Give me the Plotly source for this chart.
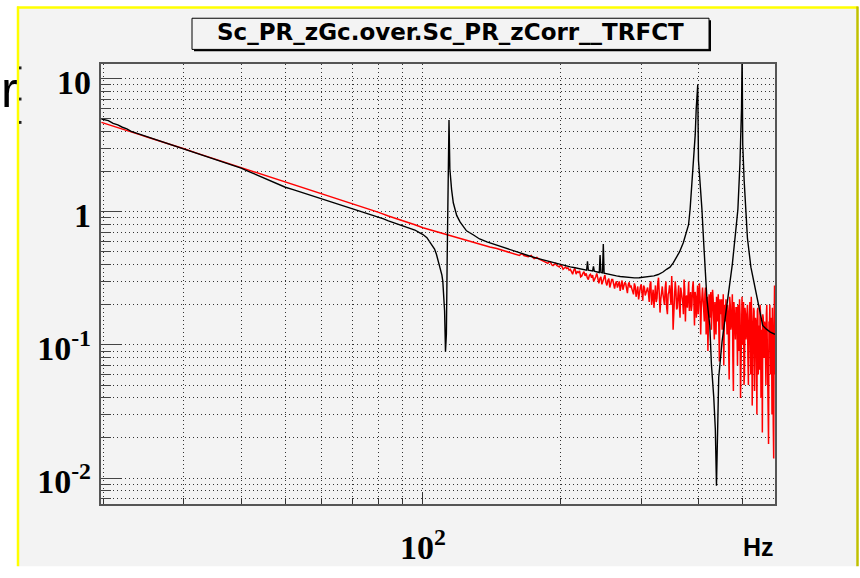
import numpy as np
import plotly.graph_objects as go

# ---------------- data ----------------
black_f = [19.8, 20.5, 21, 21.5, 22, 22.5, 23, 24, 25, 26, 27, 28, 29, 30, 31, 32, 33, 34, 35, 36,
           37, 38, 39, 40, 42, 44, 46, 48, 50, 52, 54, 56, 58, 60, 62,
           64, 66, 68, 70, 72, 74, 76, 78, 80, 82, 84, 86, 88, 90, 92, 94, 96, 98, 100, 102,
           104, 105, 106, 107, 108, 109, 110, 110.5, 111, 111.5, 112, 112.5, 113, 113.5, 114, 114.5, 115, 115.5, 116.5, 117.5,
           118.5, 120.5, 122.5, 124.5, 129, 133, 138, 145, 150, 157.5, 165, 171, 178, 186, 192, 199, 205, 210, 215, 220,
           225, 228, 229, 230, 235, 236, 237, 240, 243, 244, 245, 247, 248, 249, 252, 256, 260, 265, 270, 275,
           283, 290, 297, 303, 308, 313, 320, 327, 335, 341, 347, 353, 358, 364, 371, 377, 381, 384, 387, 390.5,
           394, 396, 398, 399, 400.5, 404, 407.5, 411, 414.5, 418, 424, 427.5, 432.5, 436, 438.5, 442, 443.5, 451, 459, 467,
           475, 483, 488.5, 493.5, 495.5, 497.5, 499, 500.5, 504, 508, 512.5, 521.5, 530, 539.5, 553.5, 563, 575, 589]
black_v = [4.98, 4.85, 4.62, 4.5, 4.32, 4.2, 4.02, 3.83, 3.64, 3.5, 3.35, 3.2, 3.1, 2.96, 2.86, 2.75, 2.66, 2.57, 2.5, 2.4,
           2.35, 2.27, 2.21, 2.13, 1.98, 1.85, 1.71, 1.62, 1.53, 1.47, 1.41, 1.36, 1.31, 1.265, 1.22,
           1.17, 1.135, 1.095, 1.06, 1.025, 0.995, 0.965, 0.94, 0.91, 0.885, 0.855, 0.83, 0.81, 0.79, 0.77, 0.75, 0.73, 0.7, 0.675, 0.64,
           0.585, 0.56, 0.525, 0.48, 0.43, 0.38, 0.335, 0.3, 0.25, 0.18, 0.089, 0.12, 0.5, 1.6, 4.9, 2.1, 1.65, 1.47, 1.17, 1.02,
           0.94, 0.84, 0.77, 0.72, 0.67, 0.625, 0.594, 0.561, 0.54, 0.507, 0.485, 0.466, 0.447, 0.429, 0.415, 0.401, 0.393, 0.386, 0.38, 0.373,
           0.368, 0.365, 0.425, 0.364, 0.36, 0.39, 0.358, 0.353, 0.35, 0.474, 0.35, 0.348, 0.574, 0.346, 0.342, 0.338, 0.333, 0.33, 0.327, 0.324,
           0.321, 0.319, 0.32, 0.322, 0.324, 0.326, 0.33, 0.338, 0.353, 0.37, 0.384, 0.415, 0.454, 0.5, 0.585, 0.71, 0.8, 1.05, 1.5, 2.44,
           3.8, 5.97, 8.8, 9.0, 2.44, 1.65, 1.05, 0.6, 0.343, 0.219, 0.14, 0.0714, 0.0407, 0.0233, 0.00875, 0.0275, 0.057, 0.106, 0.166, 0.245,
           0.405, 0.71, 1.05, 2.3, 3.22, 6.0, 16.0, 3.22, 1.74, 0.99, 0.636, 0.384, 0.29, 0.207, 0.14, 0.132, 0.125, 0.12]

red_smooth_f = [19.8, 21, 22, 23, 24, 25, 26, 27, 28, 29, 30, 32, 34, 36, 38, 40, 42, 44, 46, 48,
                50, 53, 56, 59, 62, 65, 68, 71, 74, 77, 80, 84, 88, 92, 96, 100, 104, 108, 112, 116,
                120, 125, 130, 135, 140, 145, 150, 155]
red_smooth_v = [4.7, 4.42, 4.2, 3.97, 3.8, 3.63, 3.48, 3.36, 3.2, 3.1, 2.98, 2.76, 2.58, 2.41, 2.28, 2.15, 2.03, 1.93, 1.83, 1.75,
                1.66, 1.56, 1.47, 1.39, 1.32, 1.25, 1.19, 1.13, 1.08, 1.04, 0.99, 0.93, 0.885, 0.845, 0.8, 0.76, 0.73, 0.705, 0.68, 0.655,
                0.632, 0.61, 0.585, 0.565, 0.545, 0.53, 0.51, 0.495]

# noisy part: frequency bins from 160 Hz, 1.25 Hz apart.
# "even" bins (160, 162.5, ...) and "odd" bins (161.25, 163.75, ...)
red_noise_start, red_noise_step = 160.0, 1.25
red_noise_even = [
    0.48, 0.47, 0.485, 0.465, 0.46, 0.47, 0.445, 0.455, 0.44, 0.43,
    0.425, 0.41, 0.42, 0.395, 0.41, 0.39, 0.40, 0.37, 0.385, 0.38,
    0.37, 0.34, 0.375, 0.355, 0.36, 0.33, 0.355, 0.345, 0.31, 0.34,
    0.335, 0.31, 0.345, 0.29, 0.325, 0.30, 0.335, 0.28, 0.315, 0.295,
    0.31, 0.265, 0.30, 0.285, 0.255, 0.305, 0.28, 0.29, 0.245, 0.295,
    0.28, 0.25, 0.29, 0.23, 0.275, 0.26, 0.285, 0.215, 0.27, 0.25,
    0.27, 0.21, 0.30, 0.235, 0.19, 0.28, 0.225, 0.32, 0.175, 0.26,
    0.24, 0.2, 0.3, 0.17, 0.25, 0.215, 0.33, 0.13, 0.23, 0.26,
    0.19, 0.28, 0.16, 0.25, 0.21, 0.31, 0.15, 0.235, 0.27, 0.18,
    0.25, 0.2, 0.3, 0.14, 0.23, 0.26, 0.17, 0.29, 0.12, 0.24,
    0.22, 0.15, 0.27, 0.18, 0.09, 0.24, 0.2, 0.13, 0.26, 0.17,
    0.21, 0.12, 0.19, 0.24, 0.075, 0.17, 0.22, 0.14, 0.07, 0.2,
    0.22, 0.12, 0.18, 0.055, 0.2, 0.14, 0.24, 0.045, 0.17, 0.11,
    0.19, 0.07, 0.16, 0.22, 0.04, 0.15, 0.1, 0.21, 0.06, 0.17,
    0.12, 0.2, 0.05, 0.16, 0.09, 0.23, 0.035, 0.14, 0.18, 0.07,
    0.15, 0.03, 0.19, 0.1, 0.065, 0.17, 0.12, 0.022, 0.16, 0.08,
    0.14, 0.05, 0.2, 0.07, 0.018, 0.13, 0.09, 0.16, 0.03, 0.11, 0.014, 0.28, 0.06,
]
red_noise_odd = [
    0.475, 0.48, 0.47, 0.46, 0.465, 0.455, 0.45, 0.445, 0.435, 0.43,
    0.415, 0.42, 0.40, 0.405, 0.395, 0.385, 0.39, 0.38, 0.375, 0.365,
    0.355, 0.365, 0.34, 0.35, 0.325, 0.345, 0.33, 0.32, 0.335, 0.32,
    0.3, 0.325, 0.31, 0.315, 0.285, 0.32, 0.295, 0.305, 0.27, 0.31,
    0.285, 0.29, 0.27, 0.3, 0.275, 0.26, 0.295, 0.265, 0.285, 0.27,
    0.265, 0.24, 0.275, 0.255, 0.22, 0.27, 0.245, 0.28, 0.235, 0.26,
    0.245, 0.285, 0.2, 0.26, 0.25, 0.21, 0.29, 0.24, 0.22, 0.275,
    0.22, 0.27, 0.19, 0.24, 0.28, 0.2, 0.25, 0.21, 0.3, 0.185,
    0.24, 0.2, 0.27, 0.22, 0.17, 0.26, 0.23, 0.19, 0.3, 0.21,
    0.18, 0.27, 0.22, 0.25, 0.16, 0.28, 0.21, 0.23, 0.19, 0.27,
    0.19, 0.24, 0.12, 0.23, 0.2, 0.16, 0.25, 0.18, 0.22, 0.11,
    0.16, 0.23, 0.15, 0.1, 0.22, 0.19, 0.13, 0.24, 0.17, 0.15,
    0.17, 0.2, 0.09, 0.23, 0.13, 0.18, 0.08, 0.21, 0.15, 0.19,
    0.13, 0.2, 0.09, 0.17, 0.12, 0.23, 0.14, 0.05, 0.19, 0.11,
    0.17, 0.08, 0.14, 0.21, 0.06, 0.15, 0.12, 0.19, 0.045, 0.16,
    0.1, 0.18, 0.06, 0.14, 0.2, 0.04, 0.13, 0.17, 0.09, 0.15,
    0.09, 0.17, 0.11, 0.04, 0.15, 0.2, 0.06, 0.12, 0.19, 0.025, 0.13, 0.08,
]
red_noise_v = []
for i, v in enumerate(red_noise_even):
    red_noise_v.append(v)
    if i < len(red_noise_odd):
        red_noise_v.append(red_noise_odd[i])
red_noise_f = list(red_noise_start + red_noise_step * np.arange(len(red_noise_v)))

x_grid_vals = [20, 30, 40, 50, 60, 70, 80, 90, 100, 200, 300, 400, 500]
x_major_vals = [100]
x_major_text = ["<b>10<sup>2</sup></b>"]
y_grid_vals = [m * 10.0 ** e for e in (-3, -2, -1, 0, 1) for m in range(1, 10)]
y_major_vals = [0.01, 0.1, 1, 10]
y_major_text = ["<b>10<sup>-2</sup></b>", "<b>10<sup>-1</sup></b>", "<b>1</b>", "<b>10</b>"]

title_text = "Sc_PR_zGc.over.Sc_PR_zCorr__TRFCT"

# ---------------- layout geometry (pixels) ----------------
W, H = 860, 578
L, R, T, B = 101, 775, 64, 516
BG = "#f3f3f3"


def px_x(x):
    return (x - L) / (R - L)


def px_y(y):
    return (B - y) / (B - T)


fig = go.Figure()
fig.add_trace(go.Scatter(x=red_smooth_f + red_noise_f, y=red_smooth_v + red_noise_v, mode="lines",
                         xaxis="x", yaxis="y",
                         line=dict(color="#ff0000", width=1.5), showlegend=False, hoverinfo="skip"))
fig.add_trace(go.Scatter(x=black_f, y=black_v, mode="lines", xaxis="x2", yaxis="y2",
                         line=dict(color="#000000", width=1.4), showlegend=False, hoverinfo="skip"))

xr = [1.2957, 2.770]
yr = [-2.195, 1.1106]
tick_font = dict(family="Liberation Serif", size=34, color="black")
dot = "1px,3px"

fig.update_layout(
    width=W, height=H,
    margin=dict(l=L, r=W - R, t=T, b=H - B, pad=0),
    paper_bgcolor="white", plot_bgcolor=BG,
    xaxis=dict(type="log", range=xr, tickvals=x_grid_vals, showticklabels=False,
               ticks="inside", ticklen=6, tickwidth=1, tickcolor="#333",
               showgrid=True, gridcolor="#333", gridwidth=1, griddash=dot,
               showline=True, mirror=True, linecolor="#555", linewidth=2, zeroline=False),
    xaxis2=dict(type="log", range=xr, overlaying="x", anchor="y", side="bottom",
                tickvals=x_major_vals, ticktext=x_major_text, ticks="inside", ticklen=12,
                tickwidth=1, tickcolor="#333", showgrid=False, showline=False, zeroline=False,
                tickfont=tick_font, ticklabelstandoff=20),
    yaxis=dict(type="log", range=yr, tickvals=y_grid_vals, showticklabels=False,
               ticks="inside", ticklen=10, tickwidth=1, tickcolor="#444",
               showgrid=True, gridcolor="#333", gridwidth=1, griddash=dot,
               showline=True, mirror=True, linecolor="#555", linewidth=2, zeroline=False),
    yaxis2=dict(type="log", range=yr, overlaying="y", anchor="x", side="left",
                tickvals=y_major_vals, ticktext=y_major_text, ticks="inside", ticklen=20,
                tickwidth=1, tickcolor="#444", showgrid=False, showline=False, zeroline=False,
                tickfont=tick_font, ticklabelstandoff=9, ticklabelshift=3),
)

shapes = [
    # canvas grey area
    dict(type="rect", xref="paper", yref="paper", x0=px_x(18), x1=px_x(858), y0=px_y(6), y1=px_y(580),
         fillcolor=BG, line=dict(width=0), layer="below"),
    # yellow frame lines
    dict(type="line", xref="paper", yref="paper", x0=px_x(18), x1=px_x(18), y0=px_y(5), y1=px_y(580),
         line=dict(color="#ffff00", width=2.5)),
    dict(type="line", xref="paper", yref="paper", x0=px_x(17), x1=px_x(858), y0=px_y(6), y1=px_y(6),
         line=dict(color="#ffff00", width=2.5)),
    dict(type="line", xref="paper", yref="paper", x0=px_x(857.5), x1=px_x(857.5), y0=px_y(5), y1=px_y(580),
         line=dict(color="#c0c000", width=2.5)),
    # title box shadow and box
    dict(type="rect", xref="paper", yref="paper", x0=px_x(194), x1=px_x(711), y0=px_y(19), y1=px_y(51),
         fillcolor="#000000", line=dict(width=0)),
    dict(type="rect", xref="paper", yref="paper", x0=px_x(192), x1=px_x(709), y0=px_y(17), y1=px_y(49),
         fillcolor=BG, line=dict(color="#000000", width=1)),
]
# small dark dots on the left yellow line
for dy in (68, 100, 124):
    shapes.append(dict(type="rect", xref="paper", yref="paper", x0=px_x(19), x1=px_x(21.5),
                       y0=px_y(dy - 1.5), y1=px_y(dy + 1.5), fillcolor="#222", line=dict(width=0)))
fig.update_layout(shapes=shapes)

fig.add_annotation(text=title_text, xref="paper", yref="paper", x=px_x(450.5), y=px_y(31.5),
                   xanchor="center", yanchor="middle", showarrow=False,
                   font=dict(family="DejaVu Sans", size=23, color="black", weight="bold"))
fig.add_annotation(text="Hz", xref="paper", yref="paper", x=px_x(776), y=px_y(560),
                   xanchor="right", yanchor="middle", showarrow=False,
                   font=dict(family="Liberation Sans", size=25, color="black", weight="bold"))
fig.add_annotation(text="r", xref="paper", yref="paper", x=px_x(-1), y=px_y(91),
                   xanchor="left", yanchor="middle", showarrow=False,
                   font=dict(family="Liberation Sans", size=50, color="black"))

fig.write_html("out.html")
